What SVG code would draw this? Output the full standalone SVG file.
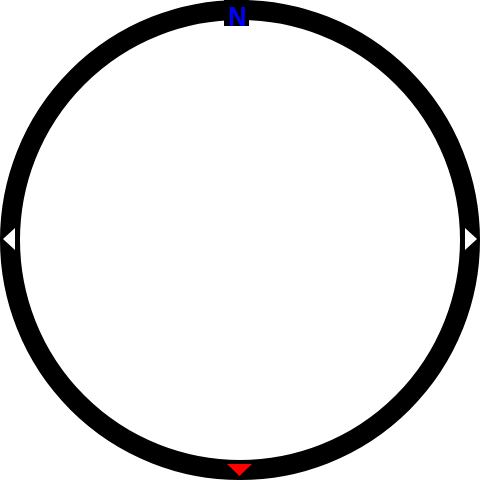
<svg xmlns="http://www.w3.org/2000/svg" width="480" height="480" viewBox="0 0 480 480">
<rect width="480" height="480" fill="#fff"/>
<g id="ring"><circle cx="240" cy="240" r="230" fill="none" stroke="#000" stroke-width="20"/></g>
<g id="north">
<rect x="224" y="0" width="25" height="26" fill="#000"/>
<text transform="translate(237.5,25.5) scale(0.9,1)" x="0" y="0" text-anchor="middle" font-family="Liberation Sans, Arial, sans-serif" font-weight="bold" font-size="28" fill="#0000ff">N</text>
</g>
<g id="west"><polygon points="3,239 15,228 15,250" fill="#fff"/></g>
<g id="east"><polygon points="477,239 465,228 465,250" fill="#fff"/></g>
<g id="south"><polygon points="227,464 252,464 239.5,476" fill="#ff0000"/></g>
</svg>
